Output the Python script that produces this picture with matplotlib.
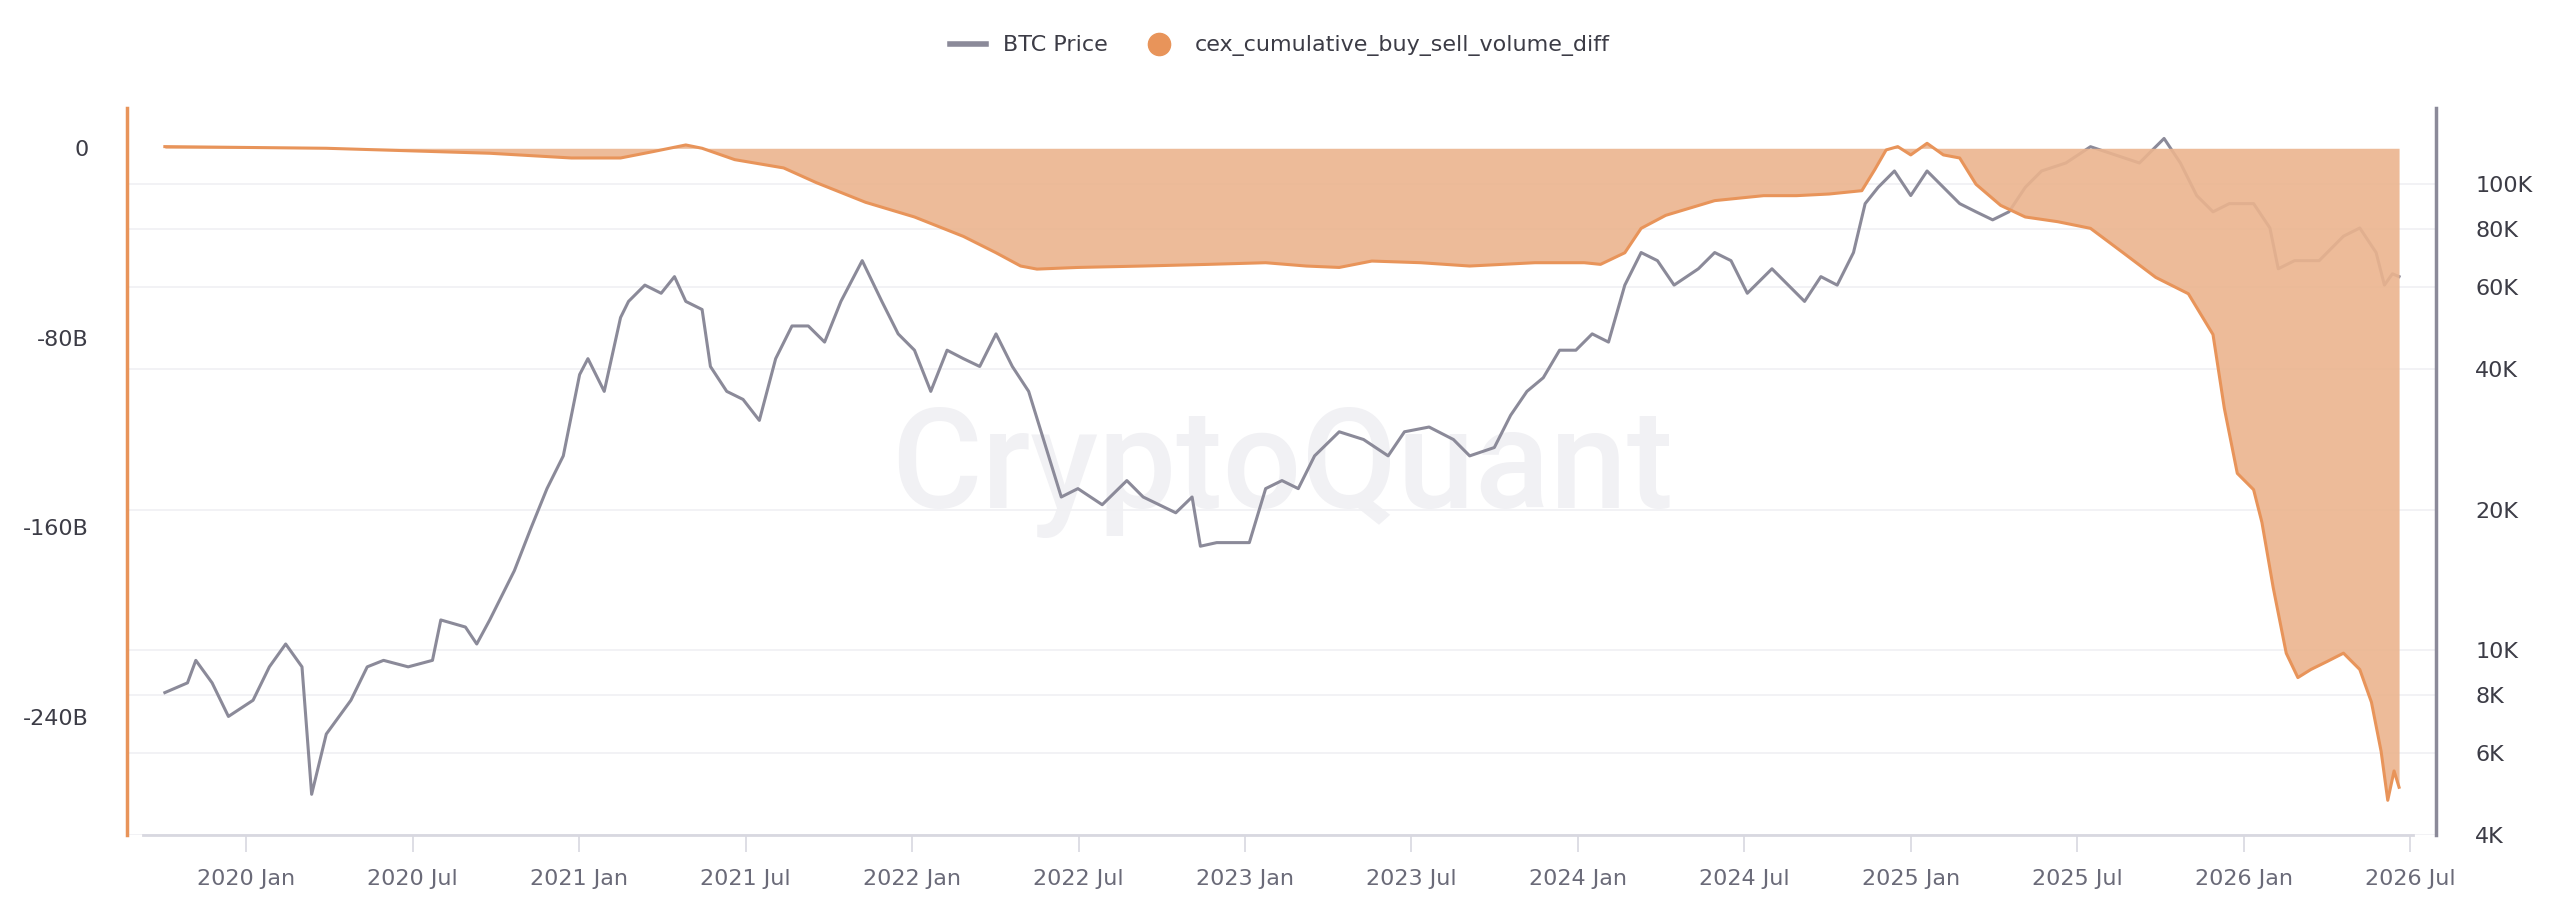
import numpy as np
import matplotlib
matplotlib.use("Agg")
import matplotlib.pyplot as plt
from matplotlib.lines import Line2D

# cumulative buy/sell volume diff (decimal year, billions)
diff_t = [2019.755, 2020.240, 2020.731, 2020.976, 2021.124, 2021.222, 2021.320, 2021.369,
          2021.467, 2021.614, 2021.712, 2021.860, 2022.007, 2022.154, 2022.252, 2022.326,
          2022.375, 2022.498, 2022.694, 2022.890, 2023.062, 2023.184, 2023.283, 2023.381,
          2023.528, 2023.675, 2023.871, 2024.019, 2024.068, 2024.141, 2024.190, 2024.264,
          2024.411, 2024.558, 2024.657, 2024.755, 2024.853, 2024.892, 2024.926, 2024.961,
          2025.000, 2025.049, 2025.098, 2025.147, 2025.196, 2025.270, 2025.344, 2025.442,
          2025.540, 2025.638, 2025.736, 2025.834, 2025.908, 2025.942, 2025.981, 2026.030,
          2026.055, 2026.089, 2026.128, 2026.163, 2026.202, 2026.251, 2026.300, 2026.349,
          2026.384, 2026.413, 2026.433, 2026.452, 2026.467]
diff_v = [0.7, 0.0, -2.1, -4.1, -4.1, -1.4, 1.4, 0.0,
          -4.8, -8.3, -14.5, -22.8, -29.0, -37.2, -44.1, -49.7,
          -51.0, -50.3, -49.7, -49.0, -48.3, -49.7, -50.3, -47.6,
          -48.3, -49.7, -48.3, -48.3, -49.0, -44.1, -33.8, -28.3,
          -22.1, -20.0, -20.0, -19.3, -17.9, -9.0, -0.7, 0.7,
          -2.8, 2.1, -2.8, -4.1, -15.2, -24.1, -29.0, -31.0,
          -33.8, -44.1, -54.5, -61.4, -78.6, -109.7, -137.2, -144.1,
          -157.9, -185.5, -213.1, -223.4, -220.0, -216.6, -213.1, -220.0,
          -233.8, -254.5, -275.2, -262.8, -269.7]

# BTC price (decimal year, thousand USD)
btc_t = [2019.755, 2019.823, 2019.848, 2019.897, 2019.946, 2020.020, 2020.069, 2020.118,
         2020.167, 2020.196, 2020.240, 2020.314, 2020.363, 2020.412, 2020.486, 2020.559,
         2020.584, 2020.658, 2020.692, 2020.731, 2020.805, 2020.854, 2020.903, 2020.952,
         2021.001, 2021.026, 2021.075, 2021.124, 2021.148, 2021.197, 2021.246, 2021.286,
         2021.320, 2021.369, 2021.394, 2021.443, 2021.492, 2021.541, 2021.590, 2021.639,
         2021.688, 2021.737, 2021.786, 2021.850, 2021.909, 2021.958, 2022.007, 2022.056,
         2022.105, 2022.154, 2022.203, 2022.252, 2022.301, 2022.350, 2022.448, 2022.498,
         2022.571, 2022.645, 2022.694, 2022.792, 2022.841, 2022.866, 2022.915, 2023.013,
         2023.062, 2023.111, 2023.160, 2023.209, 2023.283, 2023.356, 2023.430, 2023.479,
         2023.553, 2023.626, 2023.675, 2023.749, 2023.798, 2023.847, 2023.896, 2023.945,
         2023.994, 2024.043, 2024.092, 2024.141, 2024.190, 2024.239, 2024.289, 2024.362,
         2024.411, 2024.460, 2024.509, 2024.583, 2024.632, 2024.681, 2024.730, 2024.779,
         2024.828, 2024.863, 2024.902, 2024.951, 2025.000, 2025.049, 2025.098, 2025.147,
         2025.196, 2025.246, 2025.295, 2025.344, 2025.393, 2025.466, 2025.540, 2025.613,
         2025.687, 2025.761, 2025.810, 2025.859, 2025.908, 2025.957, 2026.030, 2026.079,
         2026.104, 2026.153, 2026.227, 2026.300, 2026.349, 2026.398, 2026.423, 2026.447,
         2026.467]
btc_p = [8.1, 8.5, 9.5, 8.5, 7.2, 7.8, 9.2, 10.3,
         9.2, 4.9, 6.6, 7.8, 9.2, 9.5, 9.2, 9.5,
         11.6, 11.2, 10.3, 11.6, 14.8, 18.2, 22.2, 26.1,
         39.0, 42.2, 35.9, 51.7, 56.0, 60.7, 58.3, 63.3,
         56.0, 53.8, 40.6, 35.9, 34.5, 31.1, 42.2, 49.6,
         49.6, 45.8, 56.0, 68.5, 56.0, 47.7, 44.0, 35.9,
         44.0, 42.2, 40.6, 47.7, 40.6, 35.9, 21.3, 22.2,
         20.5, 23.1, 21.3, 19.7, 21.3, 16.7, 17.0, 17.0,
         22.2, 23.1, 22.2, 26.1, 29.4, 28.3, 26.1, 29.4,
         30.1, 28.3, 26.1, 27.2, 31.9, 35.9, 38.4, 44.0,
         44.0, 47.7, 45.8, 60.7, 71.3, 68.5, 60.7, 65.8,
         71.3, 68.5, 58.3, 65.8, 60.7, 56.0, 63.3, 60.7,
         71.3, 90.8, 98.4, 106.7, 94.5, 106.7, 98.4, 90.8,
         87.2, 83.8, 87.2, 98.4, 106.7, 111.0, 120.3, 115.6,
         111.0, 125.3, 111.0, 94.5, 87.2, 90.8, 90.8, 80.5,
         65.8, 68.5, 68.5, 77.3, 80.5, 71.3, 60.7, 64.2,
         63.3]

left_ticks = [0, -80, -160, -240]
right_ticks = [4, 6, 8, 10, 20, 40, 60, 80, 100]
x_ticks = [2020 + 0.5 * i for i in range(14)]
x_labels = [f"{2020 + i // 2} {'Jan' if i % 2 == 0 else 'Jul'}" for i in range(14)]

orange = "#E8945A"
fill_c = "#EBB48E"
gray = "#8B8A99"
txt = "#3C3C46"

fig = plt.figure(figsize=(25.6, 9.19), dpi=100)
ax = fig.add_axes([0.0497, 0.091, 0.902, 0.792])
ax2 = ax.twinx()
ax.set_zorder(ax2.get_zorder() + 1)
ax.patch.set_visible(False)

# watermark sits behind the price line
ax2.text(0.5, 0.5, "CryptoQuant", transform=ax2.transAxes, ha="center", va="center",
         fontsize=100, color="#F1F1F4", zorder=0, family="Roboto", fontweight="medium")

ax.fill_between(diff_t, diff_v, 0, color=fill_c, alpha=0.9, lw=0)
ax.plot(diff_t, diff_v, color=orange, lw=2.2)
ax2.plot(btc_t, btc_p, color=gray, lw=2.2, zorder=3)

ax.set_xlim(2019.642, 2026.579)
ax.set_ylim(-290, 17.2)
ax2.set_yscale("log")
ax2.set_ylim(4, 146)

ax.set_yticks(left_ticks)
ax.set_yticklabels(["0" if v == 0 else f"{v}B" for v in left_ticks])
ax2.set_yticks(right_ticks)
ax2.set_yticklabels([f"{v}K" for v in right_ticks])
ax2.minorticks_off()
ax2.yaxis.grid(True, color="#F0F0F3", lw=1.2)
ax2.set_axisbelow(True)
ax.set_xticks(x_ticks)
ax.set_xticklabels(x_labels)

for a in (ax, ax2):
    for s in a.spines.values():
        s.set_visible(False)
ax.spines["left"].set_visible(True)
ax.spines["left"].set_color(orange)
ax.spines["left"].set_linewidth(2.5)
ax2.spines["right"].set_visible(True)
ax2.spines["right"].set_color(gray)
ax2.spines["right"].set_linewidth(2.5)
ax.axhline(-290, xmin=0.007, xmax=0.99, color="#D8D8E0", lw=2, clip_on=False)

ax.tick_params(axis="y", length=0, pad=28, labelsize=16, labelcolor=txt)
ax2.tick_params(axis="y", length=0, pad=28, labelsize=16, labelcolor=txt)
ax.tick_params(axis="x", length=12, width=1.2, color="#D8D8E0", pad=12,
               labelsize=16, labelcolor="#6A6A78")

handles = [Line2D([], [], color=gray, lw=4),
           Line2D([], [], color=orange, marker="o", ls="none", markersize=16)]
fig.legend(handles, ["BTC Price", "cex_cumulative_buy_sell_volume_diff"],
           loc="center", bbox_to_anchor=(0.5, 0.95), ncol=2, frameon=False,
           fontsize=16, labelcolor=txt, handlelength=1.6, columnspacing=1.5)

fig.savefig("out.png", dpi=100, facecolor="white")
